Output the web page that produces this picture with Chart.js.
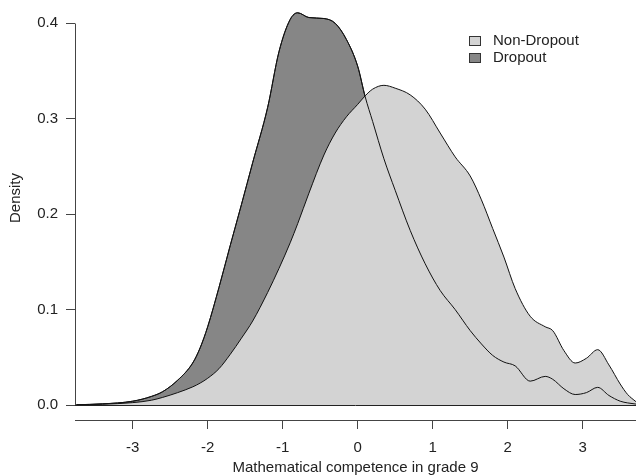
<!DOCTYPE html>
<html>
<head>
<meta charset="utf-8">
<script src="https://cdn.jsdelivr.net/npm/chart.js@4.4.1/dist/chart.umd.min.js"></script>
<style>
  html, body { margin: 0; padding: 0; background: #fff; }
  #wrap { width: 636px; height: 475px; }
</style>
</head>
<body>
<div id="wrap"><canvas id="densityChart" width="636" height="475"></canvas></div>
<script>
var scores = [-3.75, -3.4, -3.0, -2.75, -2.6, -2.4, -2.2, -2.1, -2.0, -1.85, -1.7, -1.55, -1.4, -1.2, -1.05, -0.9, -0.8,
  -0.65, -0.45, -0.3, -0.15, 0.0, 0.1, 0.2, 0.35, 0.5, 0.7, 0.9, 1.1, 1.3, 1.5, 1.65, 1.8, 1.95, 2.1, 2.3,
  2.5, 2.6, 2.75, 2.9, 3.05, 3.2, 3.35, 3.5, 3.6, 3.71];

var dropoutDensity = [0.0003, 0.0012, 0.004, 0.009, 0.014, 0.026, 0.044, 0.060, 0.082, 0.123, 0.167, 0.21, 0.254, 0.312, 0.37, 0.404, 0.411,
  0.406, 0.405, 0.400, 0.383, 0.355, 0.323, 0.297, 0.258, 0.225, 0.183, 0.148, 0.12, 0.1, 0.078, 0.064, 0.052, 0.045, 0.041, 0.025,
  0.030, 0.027, 0.017, 0.011, 0.013, 0.0185, 0.010, 0.004, 0.0022, 0.001];

var nonDropoutDensity = [0.0002, 0.0008, 0.0025, 0.005, 0.008, 0.013, 0.019, 0.023, 0.028, 0.038, 0.053, 0.07, 0.088, 0.118, 0.143, 0.17, 0.19,
  0.222, 0.262, 0.285, 0.302, 0.315, 0.324, 0.331, 0.335, 0.332, 0.325, 0.31, 0.285, 0.26, 0.24, 0.215, 0.185, 0.155, 0.122, 0.093,
  0.082, 0.078, 0.057, 0.044, 0.049, 0.058, 0.042, 0.022, 0.011, 0.0035];

var seriesLabels = ['Non-Dropout', 'Dropout'];
var xTicks = [-3, -2, -1, 0, 1, 2, 3];
var yTicks = [0, 0.1, 0.2, 0.3, 0.4];

var LIGHT = '#d3d3d3';
var DARK = '#868686';
var INK = '#222';
var FONT = { family: '"Liberation Sans", Arial, sans-serif', size: 15 };

function toPoints(values) {
  return scores.map(function (s, i) { return { x: s, y: values[i] }; });
}

function alignPx(v) { return Math.round(v - 0.5) + 0.5; }

// base-R look: y axis only spans the tick range, baseline of the polygons,
// rotated y title and a legend box in the top right corner
var rStyle = {
  id: 'rStyle',
  afterDraw: function (chart) {
    var ctx = chart.ctx, area = chart.chartArea, y = chart.scales.y;
    var y0 = alignPx(y.getPixelForValue(0));
    var left = alignPx(area.left);
    ctx.save();
    ctx.lineWidth = 1;
    ctx.strokeStyle = '#444';
    ctx.beginPath();
    ctx.moveTo(left, alignPx(y.getPixelForValue(yTicks[0])));
    ctx.lineTo(left, alignPx(y.getPixelForValue(yTicks[yTicks.length - 1])));
    ctx.stroke();
    ctx.strokeStyle = '#222';
    ctx.beginPath();
    ctx.moveTo(area.left, y0);
    ctx.lineTo(area.right, y0);
    ctx.stroke();

    // y title
    ctx.fillStyle = INK;
    ctx.font = FONT.size + 'px ' + FONT.family;
    ctx.textAlign = 'center';
    ctx.textBaseline = 'middle';
    ctx.save();
    ctx.translate(16, 198);
    ctx.rotate(-Math.PI / 2);
    ctx.fillText('Density', 0, 0);
    ctx.restore();

    // legend
    var fills = [LIGHT, DARK];
    ctx.textAlign = 'left';
    for (var i = 0; i < seriesLabels.length; i++) {
      var cy = 40.5 + i * 17.3;
      ctx.fillStyle = fills[i];
      ctx.fillRect(469.5, Math.round(cy - 4.5) + 0.5, 11, 9);
      ctx.strokeStyle = '#333';
      ctx.strokeRect(469.5, Math.round(cy - 4.5) + 0.5, 11, 9);
      ctx.fillStyle = INK;
      ctx.fillText(seriesLabels[i], 493, cy);
    }
    ctx.restore();
  }
};

var ctx = document.getElementById('densityChart').getContext('2d');
new Chart(ctx, {
  type: 'line',
  data: {
    datasets: [{
      label: seriesLabels[0],
      data: toPoints(nonDropoutDensity),
      backgroundColor: LIGHT,
      borderColor: '#111',
      borderWidth: 1,
      fill: 'origin',
      pointRadius: 0,
      cubicInterpolationMode: 'monotone',
      order: 2
    }, {
      label: seriesLabels[1],
      data: toPoints(dropoutDensity),
      backgroundColor: DARK,
      borderColor: '#111',
      borderWidth: 1,
      fill: 'origin',
      pointRadius: 0,
      cubicInterpolationMode: 'monotone',
      order: 3
    }, {
      // dropout outline stays visible on top of the light area
      label: seriesLabels[1] + ' outline',
      data: toPoints(dropoutDensity),
      borderColor: '#111',
      borderWidth: 1,
      fill: false,
      pointRadius: 0,
      cubicInterpolationMode: 'monotone',
      order: 1
    }]
  },
  options: {
    responsive: false,
    animation: false,
    devicePixelRatio: 1,
    layout: { padding: 0, autoPadding: false },
    plugins: {
      legend: { display: false },
      tooltip: { enabled: false }
    },
    scales: {
      x: {
        type: 'linear',
        min: -3.769,
        max: 3.711,
        afterFit: function (s) { s.height = 55; s.paddingLeft = 0; s.paddingRight = 0; },
        afterBuildTicks: function (s) { s.ticks = xTicks.map(function (v) { return { value: v }; }); },
        border: { display: true, color: '#444', width: 1 },
        grid: { drawOnChartArea: false, tickLength: 9, color: '#444' },
        ticks: { padding: 10, color: INK, font: FONT, maxRotation: 0, autoSkip: false },
        title: {
          display: true,
          text: 'Mathematical competence in grade 9',
          color: INK,
          font: { family: FONT.family, size: 15, lineHeight: 1 },
          padding: 0
        }
      },
      y: {
        type: 'linear',
        min: -0.0157,
        max: 0.4244,
        afterFit: function (s) { s.width = 75; s.paddingTop = 0; s.paddingBottom = 0; },
        afterBuildTicks: function (s) { s.ticks = yTicks.map(function (v) { return { value: v }; }); },
        border: { display: false },
        grid: { drawOnChartArea: false, tickLength: 9, color: '#444' },
        ticks: {
          padding: 8,
          color: INK,
          font: FONT,
          callback: function (v) { return v.toFixed(1); }
        }
      }
    }
  },
  plugins: [rStyle]
});
</script>
</body>
</html>
